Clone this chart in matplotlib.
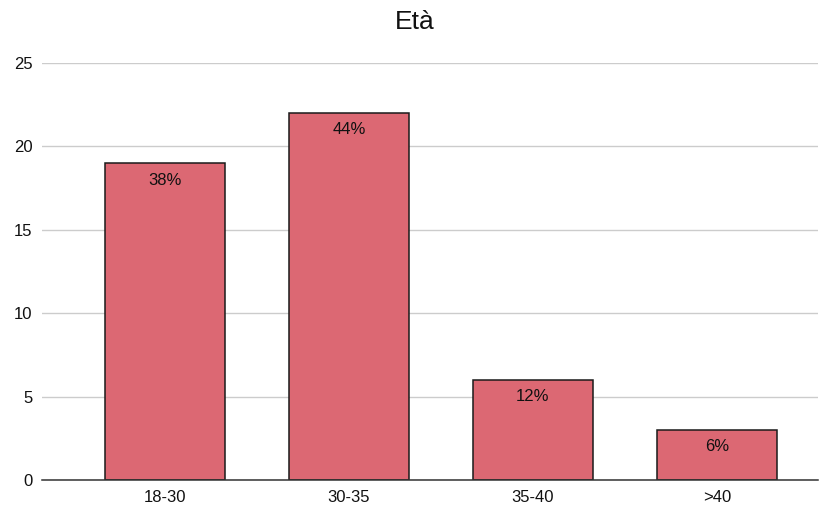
import matplotlib.pyplot as plt

plt.rcParams['font.family'] = ['Liberation Sans', 'DejaVu Sans']

categories = ["18-30", "30-35", "35-40", ">40"]
counts = [19, 22, 6, 3]
labels = ["38%", "44%", "12%", "6%"]

fig = plt.figure(figsize=(8.3, 5.08), dpi=100)
ax = fig.add_axes([0.0506, 0.0551, 0.935, 0.821])

x = range(len(categories))
bars = ax.bar(x, counts, width=0.652, color="#dc6873", edgecolor="#1a1a1a",
              linewidth=1.1, zorder=3)

# percentage labels just inside the top of each bar
for bar, lab in zip(bars, labels):
    ax.annotate(lab, (bar.get_x() + bar.get_width() / 2, bar.get_height()),
                xytext=(0, -17), textcoords="offset pixels",
                ha="center", va="center", fontsize=12, color="#111111", zorder=4)

ax.set_xlim(-0.668, 3.549)
ax.set_ylim(0, 25)
ax.set_yticks([0, 5, 10, 15, 20, 25])
ax.set_xticks(list(x))
ax.set_xticklabels(categories)
ax.yaxis.grid(True, color="#cccccc", linewidth=1, zorder=0)
ax.tick_params(axis="both", length=0, labelsize=12, colors="#111111")
ax.tick_params(axis="x", pad=7)
ax.tick_params(axis="y", pad=7)
for side in ["top", "right", "left"]:
    ax.spines[side].set_visible(False)
ax.spines["bottom"].set_color("#333333")
ax.spines["bottom"].set_linewidth(1.1)
ax.spines["bottom"].set_zorder(5)

fig.text(0.5, 0.957, "Età", ha="center", va="center", fontsize=19, color="#111111")

fig.savefig("out.png", dpi=100)
